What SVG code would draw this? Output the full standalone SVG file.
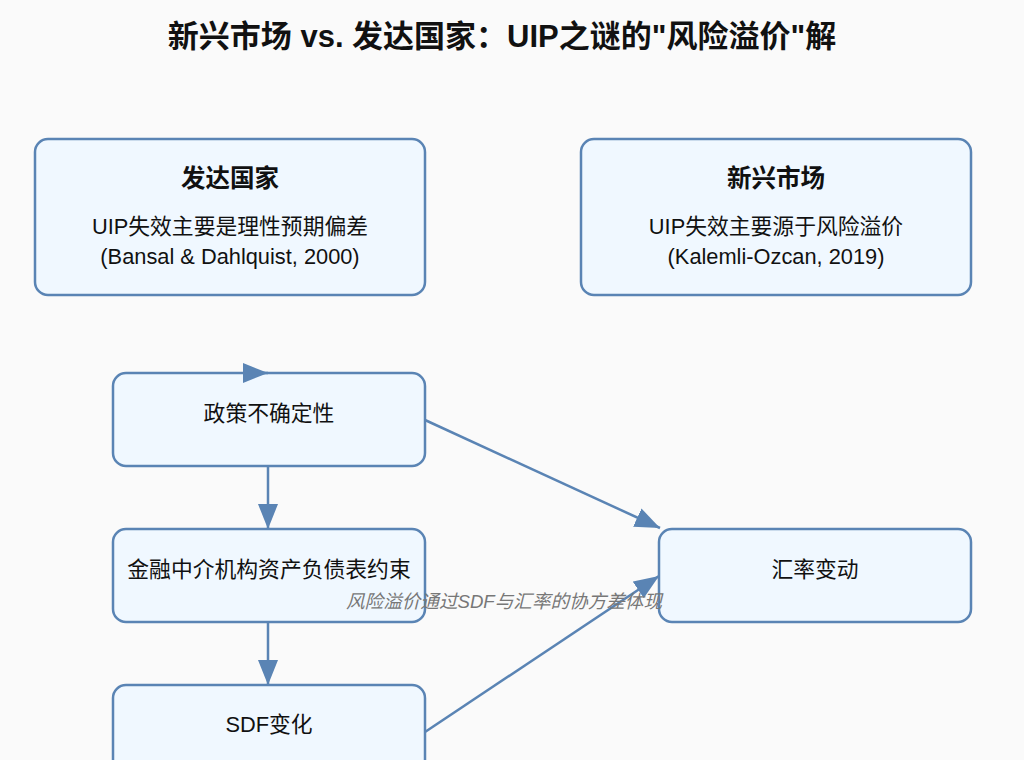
<svg xmlns="http://www.w3.org/2000/svg" width="1024" height="760" viewBox="0 0 1024 760">
<style>
.box{fill:#f0f8ff;stroke:#5a84b4;stroke-width:2.5}
.t{font-family:"Liberation Sans","Noto Sans CJK SC",sans-serif;fill:#111;text-anchor:middle}
.title{font-size:31px;font-weight:bold}
.h{font-size:24.5px;font-weight:bold}
.n{font-size:21.8px}
.lbl{font-family:"Liberation Sans","Noto Sans CJK SC",sans-serif;font-size:18.6px;font-style:italic;fill:#777;text-anchor:middle}
.c{stroke:#5a84b4;stroke-width:2.5;fill:none;marker-end:url(#arr)}
</style>
<defs>
<marker id="arr" viewBox="0 0 10 8" refX="10" refY="4" markerWidth="10" markerHeight="8" orient="auto" markerUnits="strokeWidth">
<path d="M0,0 L10,4 L0,8 Z" fill="#5a84b4"/>
</marker>
</defs>
<rect width="1024" height="760" fill="#fafafa"/>
<text class="t title" x="502" y="47">新兴市场 vs. 发达国家：UIP之谜的"风险溢价"解</text>
<g id="developed">
<rect class="box" x="35" y="139" width="390" height="156" rx="13"/>
<text class="t h" x="230" y="187">发达国家</text>
<text class="t n" x="230" y="234">UIP失效主要是理性预期偏差</text>
<text class="t n" x="230" y="264">(Bansal &amp; Dahlquist, 2000)</text>
</g>
<g id="emerging">
<rect class="box" x="581" y="139" width="390" height="156" rx="13"/>
<text class="t h" x="776" y="187">新兴市场</text>
<text class="t n" x="776" y="234">UIP失效主要源于风险溢价</text>
<text class="t n" x="776" y="264">(Kalemli-Ozcan, 2019)</text>
</g>
<g id="policy">
<rect class="box" x="113" y="373" width="312" height="93" rx="13"/>
<text class="t n" x="269" y="421">政策不确定性</text>
</g>
<g id="finance">
<rect class="box" x="113" y="529" width="312" height="93" rx="13"/>
<text class="t n" x="269" y="577">金融中介机构资产负债表约束</text>
</g>
<g id="sdf">
<rect class="box" x="113" y="685" width="312" height="93" rx="13"/>
<text class="t n" x="269" y="732">SDF变化</text>
</g>
<g id="fx">
<rect class="box" x="659" y="529" width="312" height="93" rx="13"/>
<text class="t n" x="815" y="577">汇率变动</text>
</g>
<g id="connectors">
<path class="c" d="M250,373 L268,373"/>
<path class="c" d="M268,466 L268,529"/>
<path class="c" d="M268,622 L268,685"/>
<path class="c" d="M425,420 L660,528"/>
<path class="c" d="M425,732 L659,576"/>
<text class="lbl" x="504" y="608">风险溢价通过SDF与汇率的协方差体现</text>
</g>
</svg>
